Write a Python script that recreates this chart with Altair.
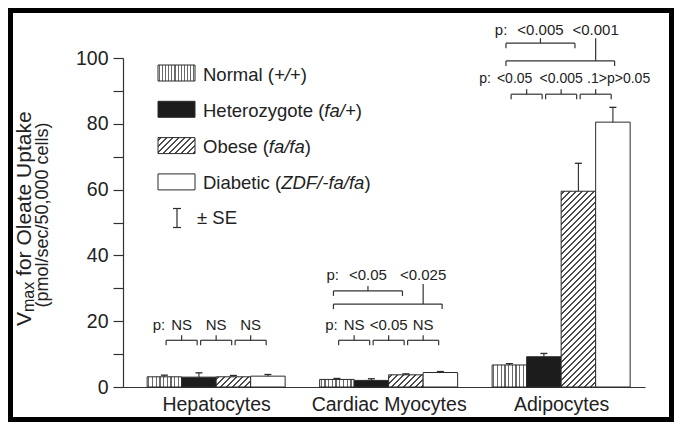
import altair as alt

# ---------------- data ----------------
cell_types = ["Hepatocytes", "Cardiac Myocytes", "Adipocytes"]
vmax_normal = [3.1, 2.3, 6.7]
vmax_heterozygote = [3.0, 2.0, 9.2]
vmax_obese = [3.1, 3.7, 59.5]
vmax_diabetic = [3.3, 4.4, 80.5]
se_normal = [0.5, 0.3, 0.4]
se_heterozygote = [1.3, 0.5, 1.0]
se_obese = [0.4, 0.3, 8.5]
se_diabetic = [0.5, 0.3, 4.5]

legend_labels = [
    ("Normal (", "+/+", ")"),
    ("Heterozygote (", "fa/+", ")"),
    ("Obese (", "fa/fa", ")"),
    ("Diabetic (", "ZDF/-fa/fa", ")"),
]
se_label = "± SE"
y_title_main = ("V", "max", "for Oleate Uptake")
y_title_units = "(pmol/sec/50,000 cells)"
y_tick_values = [0, 10, 20, 30, 40, 50, 60, 70, 80, 90, 100]

# p values between neighbouring bars (N|Het, Het|Ob, Ob|Diab)
p_adjacent = [["NS", "NS", "NS"], ["NS", "<0.05", "NS"], ["<0.05", "<0.005", ".1>p>0.05"]]
# p values Normal vs Obese, Normal vs Diabetic
p_wide = [None, ["<0.05", "<0.025"], ["<0.005", "<0.001"]]
# y levels (data units) of the annotation brackets / texts
adj_bracket_y = [14.2, 14.2, 89.0]
adj_text_y = [17.2, 17.2, 92.3]
wide_upper_y = [None, 29.2, 104.5]
wide_long_y = [None, 25.2, 99.1]
wide_text_y = [None, 32.4, 107.1]
# horizontal nudges (px) of the adjacent-pair labels
adj_shift = [[0, 0, 0], [0, 0, 0], [-12, 0, 23]]

# ---------------- layout / style ----------------
FONT = "Liberation Sans"
INK = "#222222"
LINE = "#2a2a2a"
W, H = 522, 329
PXX = 172.5          # pixels per x unit
PXY = H / 100.0      # pixels per y unit
XMIN = -0.54
XMAX = XMIN + W / PXX
BW = 0.2

AW = {' ': 278, '(': 333, ')': 333, '+': 584, '/': 278, '-': 333, 'N': 722, 'o': 556, 'r': 333,
      'm': 833, 'a': 556, 'l': 222, 'H': 722, 'e': 556, 't': 278, 'z': 500, 'y': 500, 'g': 556,
      'f': 278, 'O': 778, 'b': 556, 's': 500, 'D': 722, 'i': 222, 'c': 500, 'Z': 611, 'F': 611,
      'S': 667, 'E': 667, 'V': 667, 'x': 500, 'p': 556, 'U': 722, 'k': 500, '<': 584, '>': 584,
      '.': 278, ',': 278, '±': 584, ':': 278, 'n': 556, 'd': 556, 'C': 722, 'M': 833, 'A': 667}


def tw(s, size):
    return sum(AW.get(ch, 556) for ch in s) * size / 1000.0


def vstripes(w, period=3.7, line=1.3, color="#6a6a6a"):
    stops = [{"offset": 0, "color": "#ffffff"}]
    x = 1.0
    while x < w - 0.5:
        a = x / w
        b = min((x + line) / w, 1.0)
        stops += [{"offset": a, "color": "#ffffff"}, {"offset": a, "color": color},
                  {"offset": b, "color": color}, {"offset": b, "color": "#ffffff"}]
        x += period
    stops.append({"offset": 1, "color": "#ffffff"})
    return {"gradient": "linear", "x1": 0, "y1": 0, "x2": 1, "y2": 0, "stops": stops}


def diag(w, h, period=6.0, line=1.7, color="#4a4a4a"):
    L = w + h
    k = L / (w * w + h * h)
    stops = [{"offset": 0, "color": "#ffffff"}]
    c = 2.0
    while c < L - 0.5:
        a = c / L
        b = min((c + line) / L, 1.0)
        stops += [{"offset": a, "color": "#ffffff"}, {"offset": a, "color": color},
                  {"offset": b, "color": color}, {"offset": b, "color": "#ffffff"}]
        c += period
    stops.append({"offset": 1, "color": "#ffffff"})
    return {"gradient": "linear", "x1": 0, "y1": 0, "x2": k * w, "y2": k * h, "stops": stops}


series = [vmax_normal, vmax_heterozygote, vmax_obese, vmax_diabetic]
errors = [se_normal, se_heterozygote, se_obese, se_diabetic]
HET_FILL = "#1c1c1c"

bar_rows = []
for g in range(len(cell_types)):
    for b in range(4):
        v = series[b][g]
        e = errors[b][g]
        x0 = g + (b - 2) * BW
        wpx = BW * PXX
        hpx = max(v * PXY, 1.0)
        if b == 0:
            fill = vstripes(wpx)
        elif b == 1:
            fill = HET_FILL
        elif b == 2:
            fill = diag(wpx, hpx)
        else:
            fill = "#ffffff"
        xc = x0 + BW / 2
        bar_rows.append({"x": x0, "x2": x0 + BW, "xc": xc, "v": v, "top": v + e, "zero": 0,
                         "c1": xc - 3.5 / PXX, "c2": xc + 3.5 / PXX, "fill": fill})

bar_data = alt.Data(values=bar_rows)

# ---------------- annotation geometry ----------------
segs = []
texts = []
DROP = 5 / PXY


def bracket(xa, xb, yb, xt, ytop):
    segs.append({"x": xa, "x2": xb, "y": yb, "y2": yb})
    segs.append({"x": xa, "x2": xa, "y": yb - DROP, "y2": yb})
    segs.append({"x": xb, "x2": xb, "y": yb - DROP, "y2": yb})
    segs.append({"x": xt, "x2": xt, "y": yb, "y2": ytop})


def add_text(label, xc, y, size, shift_px=0.0):
    left = xc - tw(label, size) / 2 / PXX + shift_px / PXX
    texts.append({"x": left, "y": y, "label": label, "size": size})
    return left


def add_prefix(left, y, size, gap_px):
    texts.append({"x": left - (gap_px + tw("p:", size)) / PXX, "y": y, "label": "p:", "size": size})


for g in range(len(cell_types)):
    yb = adj_bracket_y[g]
    asz = 14 if g == 2 else 15
    for i, lab in enumerate(p_adjacent[g]):
        xm = g + (i - 1) * BW
        bracket(xm - 0.09, xm + 0.09, yb, xm, yb + 5 / PXY)
        left = add_text(lab, xm, adj_text_y[g], asz, adj_shift[g][i])
        if i == 0:
            add_prefix(left, adj_text_y[g], asz, 6)
    if p_wide[g] is not None:
        c0 = g - 0.3
        c2 = g + 0.1
        c3 = g + 0.3
        yu = wide_upper_y[g]
        yl = wide_long_y[g]
        yt = wide_text_y[g]
        xm_u = (c0 + c2) / 2 - 0.02
        bracket(c0 - 0.02, c2 - 0.02, yu, xm_u, yu + 5 / PXY)
        xm_l = g + 0.2
        bracket(c0 - 0.02, c3 + 0.01, yl, xm_l, yt - 3.5 / PXY)
        left = add_text(p_wide[g][0], xm_u, yt, 15)
        add_prefix(left, yt, 15, 10)
        add_text(p_wide[g][1], xm_l, yt, 15)

seg_data = alt.Data(values=segs)
text_data = alt.Data(values=texts)
one = alt.Data(values=[{"k": 0}])

# ---------------- scales & axes ----------------
xscale = alt.Scale(domain=[XMIN, XMAX], nice=False, zero=False)
yscale = alt.Scale(domain=[0, 100], nice=False, zero=False)
label_expr = "[" + ",".join("'" + c + "'" for c in cell_types) + "][datum.value]"

xaxis = alt.Axis(values=[0, 1, 2], labelExpr=label_expr, ticks=False, grid=False,
                 title=None, labelFontSize=19.5, labelPadding=8, labelFlush=False,
                 labelOverlap=False, labelFont=FONT, labelColor=INK, domainColor="#333333",
                 domainWidth=1.2)
yaxis = alt.Axis(values=y_tick_values, labelExpr="datum.value % 20 == 0 ? datum.label : ''",
                 tickSize=10, labelPadding=5, grid=False, title=None, labelFontSize=19.5,
                 labelFont=FONT, labelColor=INK, domainColor="#333333", tickColor="#333333",
                 domainWidth=1.2, tickWidth=1.2, labelOverlap=False)

bars = alt.Chart(bar_data).mark_rect(stroke=LINE, strokeWidth=1).encode(
    x=alt.X("x:Q", scale=xscale, axis=xaxis),
    x2="x2:Q",
    y=alt.Y("v:Q", scale=yscale, axis=yaxis),
    y2="zero:Q",
    fill=alt.Fill("fill:N", scale=None),
)

err = alt.Chart(bar_data).mark_rule(color=LINE, strokeWidth=1.1).encode(
    x=alt.X("xc:Q", scale=xscale, axis=None),
    y=alt.Y("v:Q", scale=yscale, axis=None),
    y2="top:Q",
)
caps = alt.Chart(bar_data).mark_rule(color=LINE, strokeWidth=1.3).encode(
    x=alt.X("c1:Q", scale=xscale, axis=None),
    x2="c2:Q",
    y=alt.Y("top:Q", scale=yscale, axis=None),
)

brackets = alt.Chart(seg_data).mark_rule(color="#333333", strokeWidth=1.2).encode(
    x=alt.X("x:Q", scale=xscale, axis=None),
    x2="x2:Q",
    y=alt.Y("y:Q", scale=yscale, axis=None),
    y2="y2:Q",
)

ann = alt.Chart(text_data).mark_text(align="left", baseline="alphabetic", font=FONT,
                                     color=INK).encode(
    x=alt.X("x:Q", scale=xscale, axis=None),
    y=alt.Y("y:Q", scale=yscale, axis=None),
    text="label:N",
    size=alt.Size("size:Q", scale=None),
)

layers = [bars, err, caps, brackets, ann]

# ---------------- legend (drawn in pixel space) ----------------
LSZ = 18.5
swatch_fills = [vstripes(37, period=3.1, line=1.1), HET_FILL, diag(37, 16, period=6.0), "#ffffff"]
for i, parts in enumerate(legend_labels):
    cy = 15 + 36.3 * i
    layers.append(alt.Chart(one).mark_rect(stroke=LINE, strokeWidth=1).encode(
        x=alt.value(35), x2=alt.value(72), y=alt.value(cy - 8), y2=alt.value(cy + 8),
        fill=alt.value(swatch_fills[i])))
    xpos = 80
    for j, part in enumerate(parts):
        layers.append(alt.Chart(one).mark_text(
            align="left", baseline="middle", font=FONT, fontSize=LSZ, color=INK,
            fontStyle="italic" if j == 1 else "normal").encode(
            x=alt.value(xpos), y=alt.value(cy + 1.5), text=alt.value(part)))
        xpos += tw(part, LSZ)

# ± SE entry
se_y = 160
layers.append(alt.Chart(one).mark_rule(color=LINE, strokeWidth=1.2).encode(
    x=alt.value(54), y=alt.value(se_y - 9.5), y2=alt.value(se_y + 9.5)))
for yy in (se_y - 9.5, se_y + 9.5):
    layers.append(alt.Chart(one).mark_rule(color=LINE, strokeWidth=1.2).encode(
        x=alt.value(50), x2=alt.value(58), y=alt.value(yy)))
layers.append(alt.Chart(one).mark_text(align="left", baseline="middle", font=FONT,
                                       fontSize=LSZ, color=INK).encode(
    x=alt.value(74), y=alt.value(se_y), text=alt.value(se_label)))

# ---------------- y axis title (rotated, with subscript) ----------------
T1 = 21
TS = 16
ypos = 268.0
b1 = -92.5
for j, part in enumerate(y_title_main):
    size = TS if j == 1 else T1
    if j == 2:
        ypos -= tw(" ", T1)
    layers.append(alt.Chart(one).mark_text(angle=270, align="left", baseline="alphabetic",
                                           font=FONT, fontSize=size, color=INK).encode(
        x=alt.value(b1 + (3 if j == 1 else 0)), y=alt.value(ypos), text=alt.value(part)))
    ypos -= tw(part, size)
layers.append(alt.Chart(one).mark_text(angle=270, align="center", baseline="alphabetic",
                                       font=FONT, fontSize=18, color=INK).encode(
    x=alt.value(-75), y=alt.value(157), text=alt.value(y_title_units)))

# ---------------- outer frame ----------------
PADL, PADT, PADR, PADB = 115, 50, 29, 35
layers.append(alt.Chart(one).mark_rect(fillOpacity=0, stroke="#000000", strokeWidth=5).encode(
    x=alt.value(-PADL + 2.5), x2=alt.value(W + PADR - 2.5),
    y=alt.value(-PADT + 2.5), y2=alt.value(H + PADB - 2.5)))

chart = alt.layer(*layers).resolve_axis(x="independent", y="independent").properties(
    width=W, height=H,
    autosize=alt.AutoSizeParams(type="none"),
    padding={"left": PADL, "top": PADT, "right": PADR, "bottom": PADB},
    background="#ffffff",
).configure_view(stroke=None)

chart.save("out.html", embed_options={"renderer": "svg", "actions": False})
